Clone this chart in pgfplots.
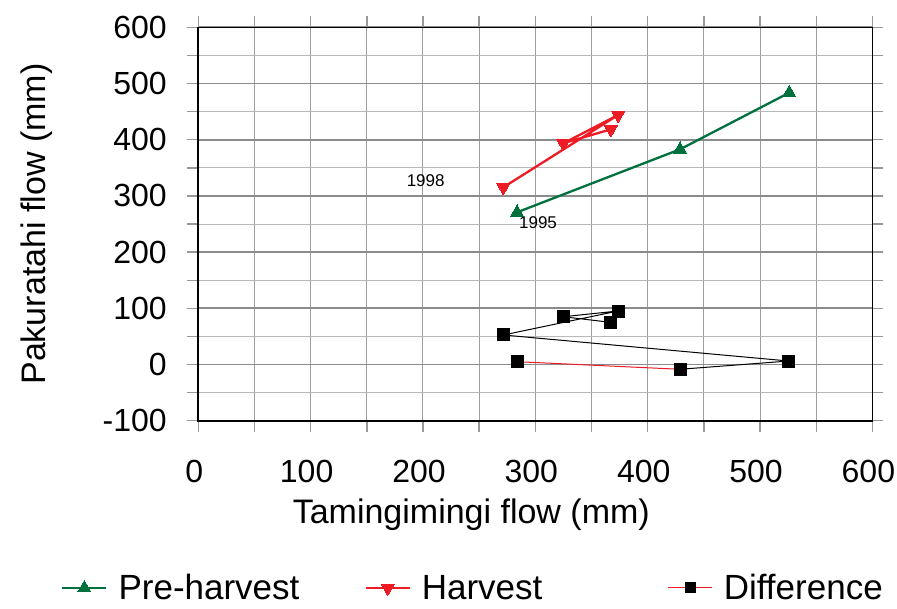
\documentclass[border=0pt]{standalone}
\usepackage{fontspec}
\setmainfont{Liberation Sans}
\usepackage{pgfplots}
\pgfplotsset{compat=1.18}
\definecolor{preharv}{RGB}{0,112,60}
\definecolor{harv}{RGB}{237,28,36}
\begin{document}
\begin{tikzpicture}
\useasboundingbox (-198.3pt,-187.3pt) rectangle (698.7pt,420.7pt);
\begin{axis}[
  scale only axis, width=674.1pt, height=393.4pt,
  at={(0pt,0pt)}, anchor=south west,
  xmin=0, xmax=600, ymin=-100, ymax=600,
  xtick={0,100,...,600}, ytick={-100,0,...,600},
  xticklabels={0,100,200,300,400,500,600},
  yticklabels={-100,0,100,200,300,400,500,600},
  minor tick num=1,
  tick align=outside,
  major tick length=11pt, minor tick length=11pt,
  every tick/.style={black!40, line width=1.4pt},
  grid=both,
  major x grid style={black!38, line width=1pt},
  minor x grid style={black!38, line width=1pt},
  major y grid style={black!45, line width=1.8pt},
  minor y grid style={black!28, line width=1pt},
  axis line style={black, line width=1.6pt},
  tick label style={font=\fontsize{32}{38}\selectfont},
  yticklabel style={anchor=east, xshift=-17pt},
  xticklabel style={anchor=north, xshift=-4pt, yshift=-25pt},
  xlabel={Tamingimingi flow (mm)},
  ylabel={Pakuratahi flow (mm)},
  label style={font=\fontsize{34}{40}\selectfont},
  xlabel style={at={(axis description cs:0.405,-0.24)}, anchor=center},
  ylabel style={at={(axis description cs:-0.24,0.5)}, anchor=center},
  legend image code/.code={%
    \draw[mark repeat=2,mark phase=2] plot coordinates {(0pt,0pt) (22pt,0pt) (44pt,0pt)};},
  legend style={at={(axis description cs:0.4075,-0.425)}, anchor=center,
    draw=none, fill=none, legend columns=3, inner sep=0pt,
    font=\fontsize{35}{40}\selectfont,
    /tikz/every odd column/.append style={column sep=9pt},
    /tikz/every even column/.append style={column sep=47pt}},
  legend cell align=left,
]
% pre-harvest years, 1995 onwards
\addplot[preharv, line width=2.3pt, mark=triangle*, mark size=7.5pt,
  mark options={solid, fill=preharv, line width=0pt}]
  coordinates {(283.7,270.8) (428.8,382.9) (526.0,483.6)};
% harvest years, 1998 onwards
\addplot[harv, line width=2.3pt, mark=triangle*, mark size=7.5pt,
  mark options={solid, fill=harv, line width=0pt, rotate=180}]
  coordinates {(271.5,315.3) (373.7,444.0) (324.9,393.6) (367.2,418.5)};
% difference series: first segment red, the rest black
\addplot[harv, line width=1pt, mark=square*, mark size=6pt,
  mark options={black, fill=black}, forget plot]
  coordinates {(283.9,5.0) (428.8,-8.5)};
\addplot[black, line width=1pt, mark=square*, mark size=6pt,
  mark options={black, fill=black}, forget plot]
  coordinates {(428.8,-8.5) (525.5,6.2) (271.5,52.5) (373.6,95.2) (324.9,85.0) (367.0,75.0)};
\addlegendimage{harv, line width=1pt, mark=square*, mark size=5pt, mark options={black, fill=black}}
\legend{\makebox[197pt][l]{Pre-harvest},\makebox[197pt][l]{Harvest},Difference}
\node[font=\fontsize{17}{20}\selectfont] at (axis cs:202.4,327) {1998};
\node[font=\fontsize{17}{20}\selectfont] at (axis cs:302.4,251.8) {1995};
\end{axis}
\end{tikzpicture}
\end{document}
